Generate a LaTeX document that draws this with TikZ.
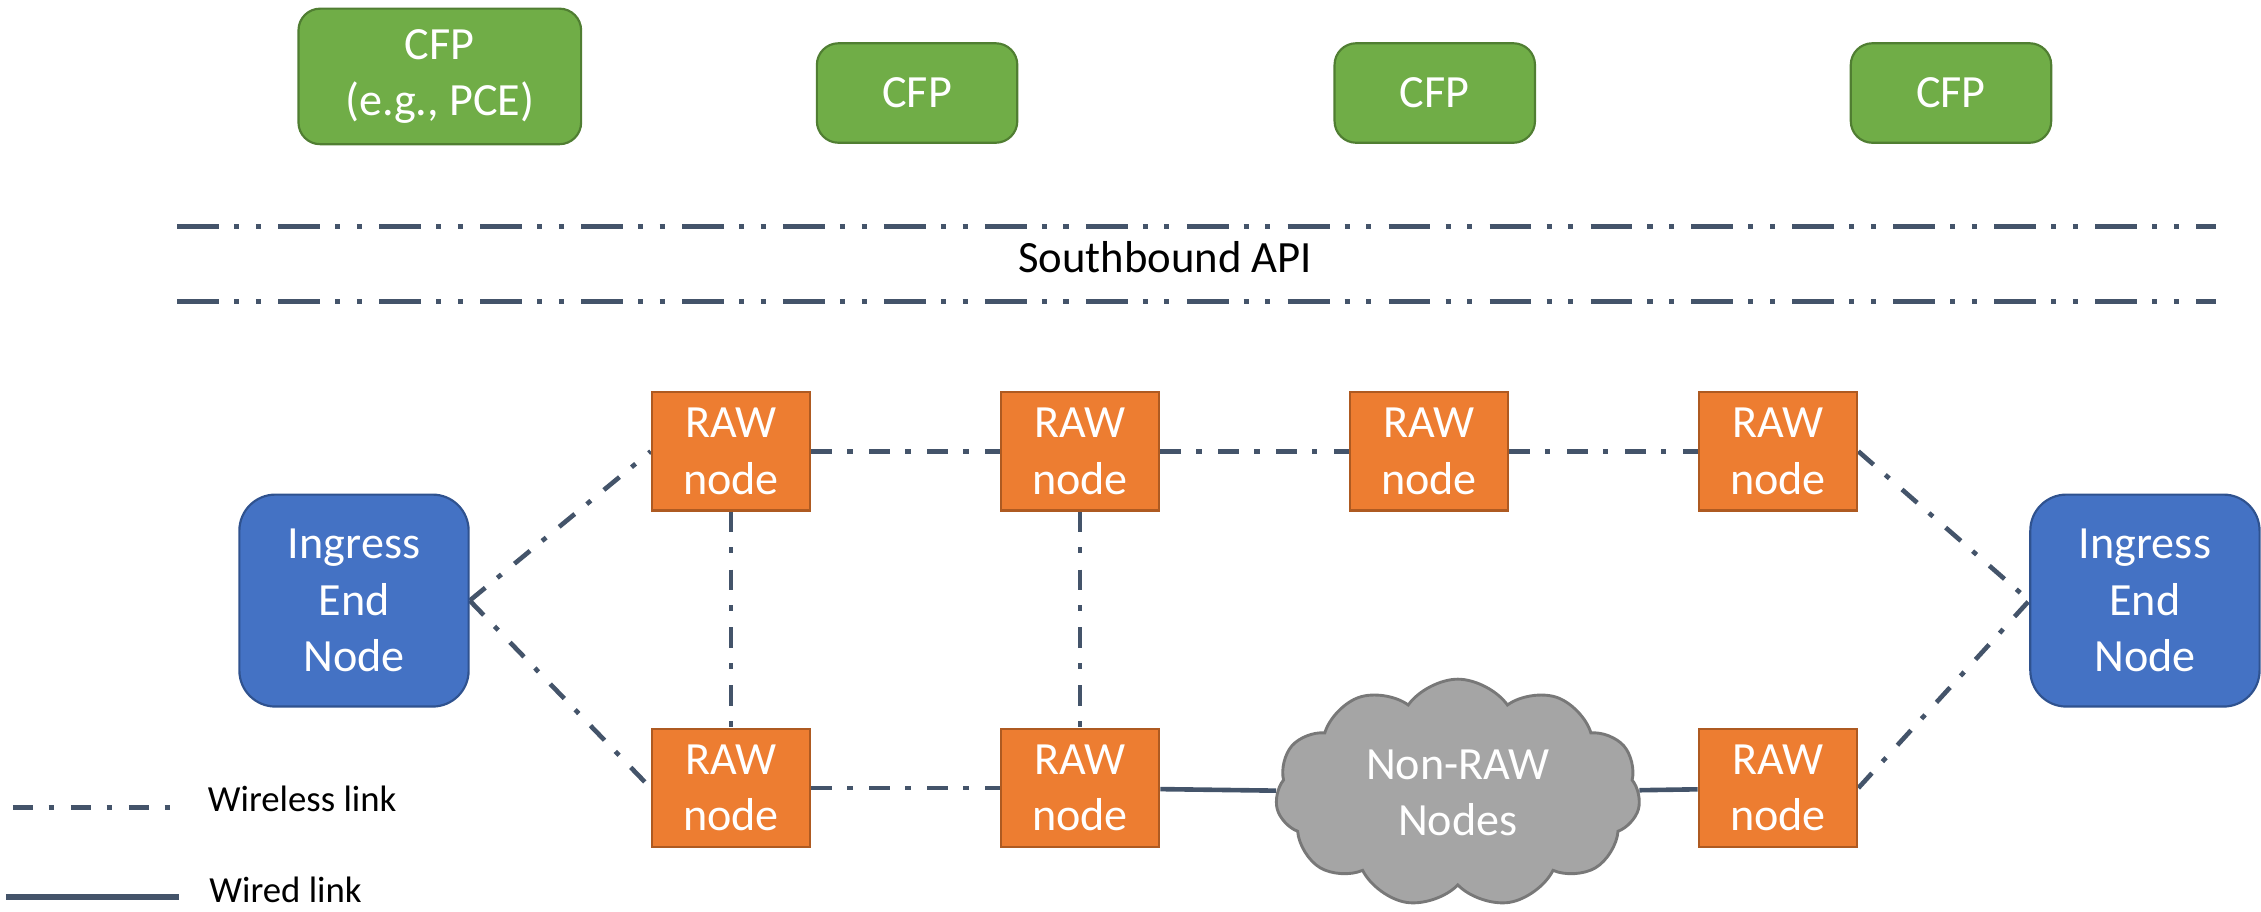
\documentclass[tikz,border=0pt]{standalone}
\usepackage{fontspec}
\setmainfont{Carlito}
\usepackage{tikz}
\usetikzlibrary{shapes,shapes.symbols,positioning,backgrounds}

\definecolor{cfpgreen}{HTML}{70AD47}
\definecolor{cfpedge}{HTML}{507E32}
\definecolor{raworange}{HTML}{ED7D31}
\definecolor{rawedge}{HTML}{AE5A21}
\definecolor{endblue}{HTML}{4472C4}
\definecolor{endedge}{HTML}{2F528F}
\definecolor{cloudgray}{HTML}{A5A5A5}
\definecolor{cloudedge}{HTML}{787878}
\definecolor{linkslate}{HTML}{44546A}

\newcommand{\boxfont}{\fontsize{32}{39}\selectfont}
\newcommand{\apifont}{\fontsize{31}{37}\selectfont}
\newcommand{\keyfont}{\fontsize{25.5}{31}\selectfont}

\begin{document}
\begin{tikzpicture}[
    x=1pt, y=-1pt,
    cfp/.style={rectangle, draw=cfpedge, fill=cfpgreen, line width=1.5pt, rounded corners=15pt, text=white, font=\boxfont, align=center, inner sep=0pt},
    rawnode/.style={rectangle, draw=rawedge, fill=raworange, line width=1.5pt, minimum width=110pt, minimum height=82pt, text=white, font=\boxfont, align=center, inner sep=0pt},
    endnode/.style={rectangle, draw=endedge, fill=endblue, line width=1.5pt, rounded corners=25pt, minimum width=159pt, minimum height=147pt, text=white, font=\boxfont, align=center, inner sep=0pt},
    wireless/.style={draw=linkslate, line width=3.2pt, dash pattern=on 14pt off 10.8pt on 3.7pt off 11.7pt},
    wired/.style={draw=linkslate, line width=3.2pt},
    api/.style={draw=linkslate, line width=3.3pt, dash pattern=on 29pt off 10.5pt on 3.5pt off 11.5pt on 3.5pt off 12pt}
]
\useasboundingbox (0,0) rectangle (1568,632);

% Control plane
\node[cfp, minimum width=196pt, minimum height=94pt] (pce) at (305,53) {CFP\\(e.g., PCE)};
\node[cfp, minimum width=139pt, minimum height=69pt] (cfpA) at (636,64.5) {CFP};
\node[cfp, minimum width=139pt, minimum height=69pt] (cfpB) at (995,64.5) {CFP};
\node[cfp, minimum width=139pt, minimum height=69pt] (cfpC) at (1353,64.5) {CFP};

% Southbound API
\coordinate (apiA) at (123,157);
\coordinate (apiB) at (1537,157);
\coordinate (apiC) at (123,209);
\coordinate (apiD) at (1537,209);
\draw[api] (apiA) -- (apiB);
\draw[api] (apiC) -- (apiD);
\node[font=\apifont, anchor=base, inner sep=0pt] (sbapi) at (808,189) {Southbound API};

% RAW nodes
\node[rawnode] (rawA) at (507,313) {RAW\\node};
\node[rawnode, right=130.5pt of rawA] (rawB) {RAW\\node};
\node[rawnode, right=130.5pt of rawB] (rawC) {RAW\\node};
\node[rawnode, right=130.5pt of rawC] (rawD) {RAW\\node};
\node[rawnode, below=150pt of rawA] (rawE) {RAW\\node};
\node[rawnode, below=150pt of rawB] (rawF) {RAW\\node};
\node[rawnode, below=150pt of rawD] (rawG) {RAW\\node};

% End nodes and the non-RAW cloud
\node[endnode] (src) at (245.5,416.5) {Ingress\\End\\Node};
\node[endnode] (dst) at (1487.5,416.5) {Ingress\\End\\Node};
\node[cloud, cloud puffs=11, cloud puff arc=110, aspect=1.6, draw=cloudedge, fill=cloudgray, line width=2pt,
      minimum width=253pt, minimum height=158pt, inner sep=0pt, text=white, font=\boxfont, align=center] (nonraw) at (1011,550) {Non-RAW\\Nodes};

% Links
\begin{scope}[on background layer]
\draw[wireless] (src.east) -- (rawA.west);
\draw[wireless] (src.east) -- (rawE.west);
\draw[wireless] (rawA) -- (rawB);
\draw[wireless] (rawB) -- (rawC);
\draw[wireless] (rawC) -- (rawD);
\draw[wireless] (rawA) -- (rawE);
\draw[wireless] (rawB) -- (rawF);
\draw[wireless] (rawE) -- (rawF);
\draw[wired] (rawF) -- (nonraw);
\draw[wired] (nonraw) -- (rawG);
\draw[wireless] (rawD.east) -- (dst.west);
\draw[wireless] (rawG.east) -- (dst.west);
\end{scope}

% Legend
\coordinate (keyA) at (9,560);
\coordinate (keyB) at (120,560);
\coordinate (keyC) at (4,622);
\coordinate (keyD) at (124,622);
\draw[wireless] (keyA) -- (keyB);
\draw[wired, line width=4pt] (keyC) -- (keyD);
\node[font=\keyfont, anchor=base west, inner sep=0pt] (wlkey) at (144,563) {Wireless link};
\node[font=\keyfont, anchor=base west, inner sep=0pt] (wdkey) at (145,626) {Wired link};

\end{tikzpicture}
\end{document}
